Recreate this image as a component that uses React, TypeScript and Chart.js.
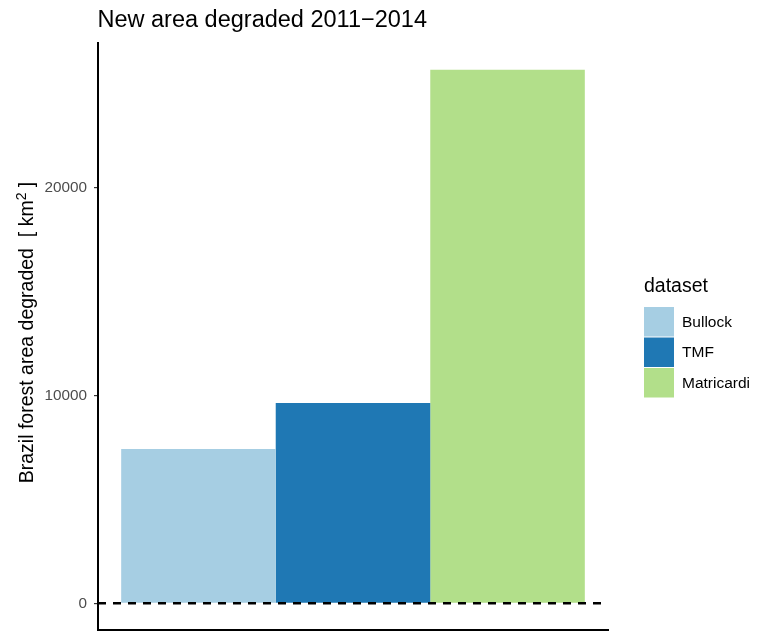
import React, { useEffect, useRef } from "react";
import { Chart, registerables } from "chart.js";

Chart.register(...registerables);

// ---- data ----
const CATEGORIES = [""];
const DATASET_NAMES = ["Bullock", "TMF", "Matricardi"];
const DATASET_VALUES = [7430, 9640, 25690];
const DATASET_COLORS = ["#A6CEE3", "#1F78B4", "#B2DF8A"];
const Y_TICKS = [0, 10000, 20000];
const HLINE_VALUE = 0;

// ---- text ----
const TITLE = "New area degraded 2011\u22122014";
const Y_TITLE_MAIN = "Brazil forest area degraded  [ km";
const Y_TITLE_SUP = "2";
const Y_TITLE_END = " ]";
const LEGEND_TITLE = "dataset";

const FONT = "'Liberation Sans', Arial, Helvetica, sans-serif";

// ggplot-like 5% expansion of the y range
const dataMax = Math.max(HLINE_VALUE, ...DATASET_VALUES);
const dataMin = Math.min(HLINE_VALUE, ...DATASET_VALUES);
const span = dataMax - dataMin;
const Y_MIN = dataMin - 0.05 * span;
const Y_MAX = dataMax + 0.05 * span;

const decorPlugin = {
  id: "decor",
  afterDatasetsDraw(chart: any) {
    const { ctx, chartArea, scales } = chart;
    const py = scales.y.getPixelForValue(HLINE_VALUE);
    ctx.save();
    ctx.beginPath();
    ctx.rect(chartArea.left, chartArea.top, chartArea.right - chartArea.left, chartArea.bottom - chartArea.top);
    ctx.clip();
    ctx.setLineDash([8, 7]);
    ctx.lineWidth = 2.5;
    ctx.strokeStyle = "#000000";
    ctx.beginPath();
    ctx.moveTo(chartArea.left, py);
    ctx.lineTo(chartArea.right, py);
    ctx.stroke();
    ctx.restore();
  },
  afterDraw(chart: any) {
    const { ctx, chartArea } = chart;
    ctx.save();
    // title
    ctx.fillStyle = "#000000";
    ctx.font = `23.5px ${FONT}`;
    ctx.textAlign = "left";
    ctx.textBaseline = "alphabetic";
    ctx.fillText(TITLE, 97.5, 26.5);

    // y axis title (rotated) with superscript
    const mainFont = `19.5px ${FONT}`;
    const supFont = `14px ${FONT}`;
    ctx.font = mainFont;
    const w1 = ctx.measureText(Y_TITLE_MAIN).width;
    const w3 = ctx.measureText(Y_TITLE_END).width;
    ctx.font = supFont;
    const w2 = ctx.measureText(Y_TITLE_SUP).width;
    const total = w1 + w2 + w3;
    const cy = (chartArea.top + chartArea.bottom) / 2 - 4;
    ctx.translate(33, cy);
    ctx.rotate(-Math.PI / 2);
    let x = -total / 2;
    ctx.font = mainFont;
    ctx.fillText(Y_TITLE_MAIN, x, 0);
    x += w1;
    ctx.font = supFont;
    ctx.fillText(Y_TITLE_SUP, x, -7.5);
    x += w2;
    ctx.font = mainFont;
    ctx.fillText(Y_TITLE_END, x, 0);
    ctx.setTransform(1, 0, 0, 1, 0, 0);

    // legend
    const lx = 644;
    ctx.font = `19.5px ${FONT}`;
    ctx.fillStyle = "#000000";
    ctx.fillText(LEGEND_TITLE, lx, 292);
    const rowTop = 306.5;
    const rowH = 30.5;
    chart.data.datasets.forEach((ds: any, i: number) => {
      const top = rowTop + i * rowH;
      ctx.fillStyle = ds.backgroundColor;
      ctx.fillRect(lx, top + 0.5, 30, rowH - 1);
      ctx.fillStyle = "#000000";
      ctx.font = `15.5px ${FONT}`;
      ctx.textBaseline = "middle";
      ctx.fillText(ds.label, 682, top + rowH / 2 + 0.5);
      ctx.textBaseline = "alphabetic";
    });
    ctx.restore();
  },
};

export default function App() {
  const ref = useRef<HTMLCanvasElement | null>(null);

  useEffect(() => {
    if (!ref.current) return;
    const chart = new Chart(ref.current, {
      type: "bar",
      data: {
        labels: CATEGORIES,
        datasets: DATASET_NAMES.map((name, i) => ({
          label: name,
          data: [DATASET_VALUES[i]],
          backgroundColor: DATASET_COLORS[i],
          borderWidth: 0,
          categoryPercentage: 0.9 / 0.99,
          barPercentage: 1.0,
        })),
      },
      options: {
        animation: false,
        responsive: false,
        devicePixelRatio: 1,
        layout: { padding: { top: 43, right: 150, bottom: 0, left: 0 } },
        plugins: {
          legend: { display: false },
          title: { display: false },
          tooltip: { enabled: false },
        },
        scales: {
          x: {
            type: "category",
            ticks: { display: false },
            grid: { display: false, drawTicks: false },
            border: { display: true, color: "#000000", width: 2 },
            afterFit: (s: any) => {
              s.height = 2;
              s.paddingLeft = 0;
              s.paddingRight = 0;
            },
          },
          y: {
            type: "linear",
            min: Y_MIN,
            max: Y_MAX,
            afterBuildTicks: (s: any) => {
              s.ticks = Y_TICKS.map((v) => ({ value: v }));
            },
            ticks: {
              font: { family: FONT, size: 15.3 },
              color: "#4D4D4D",
              padding: 7,
              callback: (v: any) => String(v),
            },
            grid: {
              display: true,
              drawOnChartArea: false,
              drawTicks: true,
              tickLength: 4,
              color: "#333333",
              lineWidth: 1.2,
            },
            border: { display: true, color: "#000000", width: 2 },
            afterFit: (s: any) => {
              s.width = 98;
              s.paddingTop = 0;
              s.paddingBottom = 0;
            },
          },
        },
      } as any,
      plugins: [decorPlugin],
    });
    return () => chart.destroy();
  }, []);

  return (
    <div style={{ position: "fixed", left: 0, top: 0, width: 758, height: 632, background: "#ffffff" }}>
      <canvas ref={ref} width={758} height={632} style={{ width: 758, height: 632, display: "block" }} />
    </div>
  );
}
